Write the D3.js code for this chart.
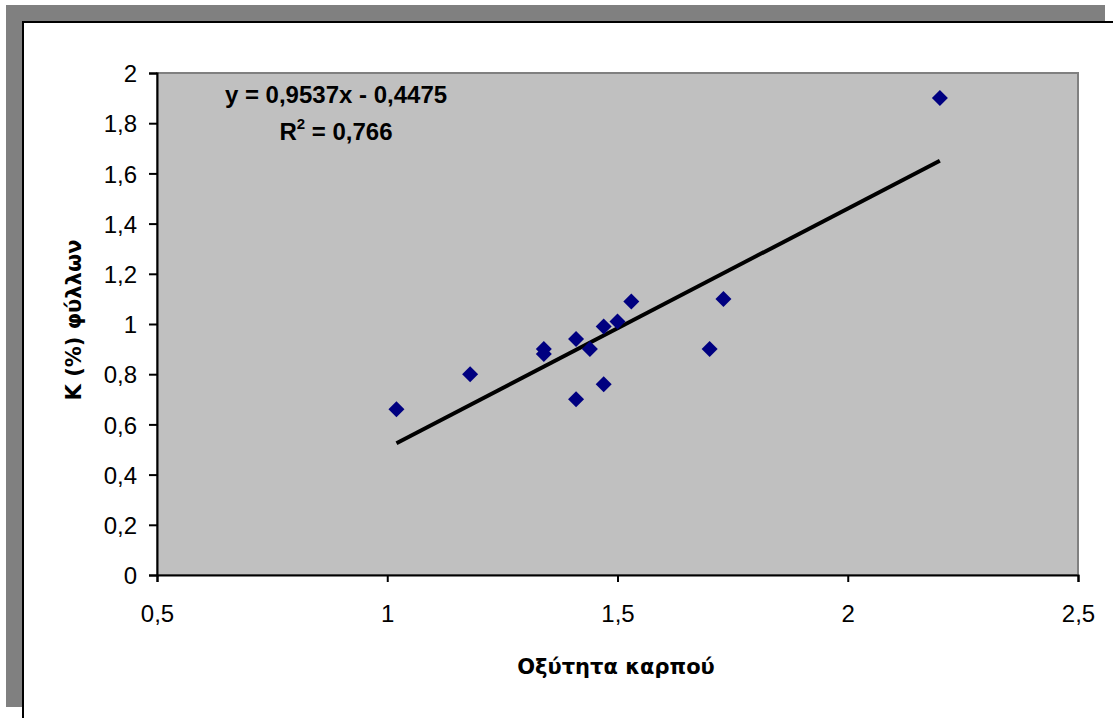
<!DOCTYPE html>
<html>
<head>
<meta charset="utf-8">
<script src="https://cdnjs.cloudflare.com/ajax/libs/d3/7.8.5/d3.min.js"></script>
<style>
  body { margin: 0; background: #fff; }
  svg { display: block; font-family: "Liberation Sans", Arial, sans-serif; }
</style>
</head>
<body>
<div id="chart"></div>
<script>
// acidity of fruit vs leaf K (%)
var acidity = [1.02, 1.18, 1.34, 1.34, 1.41, 1.41, 1.44, 1.47, 1.47, 1.50, 1.53, 1.70, 1.73, 2.20];
var leafK   = [0.66, 0.80, 0.90, 0.88, 0.94, 0.70, 0.90, 0.99, 0.76, 1.01, 1.09, 0.90, 1.10, 1.90];
var xTicks = [0.5, 1, 1.5, 2, 2.5];
var yTicks = [0, 0.2, 0.4, 0.6, 0.8, 1, 1.2, 1.4, 1.6, 1.8, 2];
var slope = 0.9537, intercept = -0.4475, r2 = "0,766";

var width = 1113, height = 718;
var fmt = function(v) { return String(v).replace('.', ','); };

var svg = d3.select('#chart').append('svg')
    .attr('width', width)
    .attr('height', height);

// shadow + chart frame
svg.append('rect')
    .attr('x', 6).attr('y', 5)
    .attr('width', 1099).attr('height', 702)
    .attr('fill', '#808080');
svg.append('rect')
    .attr('x', 23).attr('y', 22)
    .attr('width', 1100).attr('height', 710)
    .attr('fill', '#fff')
    .attr('stroke', '#000')
    .attr('stroke-width', 2);

var x = d3.scaleLinear().domain([0.5, 2.5]).range([157, 1078]);
var y = d3.scaleLinear().domain([0, 2]).range([575, 73]);

// plot area
svg.append('rect')
    .attr('x', x(0.5)).attr('y', y(2))
    .attr('width', x(2.5) - x(0.5)).attr('height', y(0) - y(2))
    .attr('fill', '#c0c0c0')
    .attr('stroke', '#808080')
    .attr('stroke-width', 2);

var yAxis = d3.axisLeft(y).tickValues(yTicks).tickFormat(fmt).tickSize(8).tickPadding(12);
var xAxis = d3.axisBottom(x).tickValues(xTicks).tickFormat(fmt).tickSize(7).tickPadding(23);

var gy = svg.append('g')
    .attr('transform', 'translate(' + x(0.5) + ',0)')
    .call(yAxis);
var gx = svg.append('g')
    .attr('transform', 'translate(0,' + y(0) + ')')
    .call(xAxis);

[gx, gy].forEach(function(g) {
    g.select('.domain').attr('stroke', '#000').attr('stroke-width', 2);
    g.selectAll('.tick line').attr('stroke', '#000').attr('stroke-width', 2);
    g.selectAll('.tick text')
        .attr('fill', '#000')
        .style('font-size', '24px')
        .style('font-family', '"Liberation Sans", Arial, sans-serif');
});
gy.selectAll('.tick text').attr('dy', '0.36em');

// trendline
var xMin = d3.min(acidity), xMax = d3.max(acidity);
svg.append('line')
    .attr('x1', x(xMin)).attr('y1', y(slope * xMin + intercept))
    .attr('x2', x(xMax)).attr('y2', y(slope * xMax + intercept))
    .attr('stroke', '#000')
    .attr('stroke-width', 4);

// points
var diamond = d3.symbol().type(d3.symbolSquare).size(128);
svg.selectAll('.pt')
    .data(acidity)
    .enter().append('path')
    .attr('class', 'pt')
    .attr('d', diamond)
    .attr('transform', function(d, i) {
        return 'translate(' + x(d) + ',' + y(leafK[i]) + ') rotate(45)';
    })
    .attr('fill', '#000080');

// equation
svg.append('text')
    .attr('x', 336).attr('y', 103)
    .attr('text-anchor', 'middle')
    .style('font-size', '24px').style('font-weight', 'bold')
    .text('y = ' + fmt(slope) + 'x - ' + fmt(-intercept));
var r = svg.append('text')
    .attr('x', 336).attr('y', 140)
    .attr('text-anchor', 'middle')
    .style('font-size', '24px').style('font-weight', 'bold');
r.append('tspan').text('R');
r.append('tspan').attr('dy', -11).style('font-size', '15px').text('2');
r.append('tspan').attr('dy', 11).text(' = ' + r2);

// axis titles
svg.append('text')
    .attr('x', 616).attr('y', 674)
    .attr('text-anchor', 'middle')
    .style('font-family', '"DejaVu Sans", sans-serif')
    .style('font-size', '21px').style('font-weight', 'bold')
    .text('Οξύτητα καρπού');
svg.append('text')
    .attr('transform', 'translate(81,320) rotate(-90)')
    .attr('text-anchor', 'middle')
    .style('font-family', '"DejaVu Sans", sans-serif')
    .style('font-size', '21px').style('font-weight', 'bold')
    .text('K (%) φύλλων');
</script>
</body>
</html>
